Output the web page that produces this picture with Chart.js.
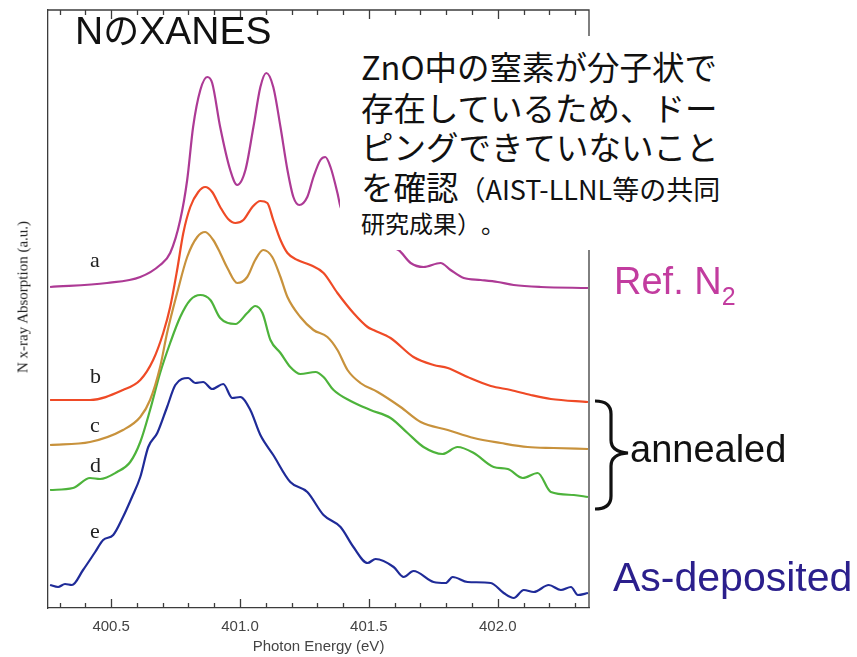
<!DOCTYPE html>
<html>
<head>
<meta charset="utf-8">
<script src="https://cdn.jsdelivr.net/npm/chart.js@4.4.1/dist/chart.umd.min.js"></script>
<style>
  body { margin: 0; background: #fff; }
  #wrap { position: relative; width: 857px; height: 657px; overflow: hidden; background: #fff; }
  #chart { position: absolute; left: 0; top: 0; }
  .lbl { position: absolute; white-space: nowrap; line-height: 1; text-spacing-trim: space-all; }
  .serif { font-family: "Liberation Serif", "DejaVu Serif", serif; color: #222; }
  .sans { font-family: "Liberation Sans", Arial, sans-serif; }
  .jp { font-family: "Noto Sans CJK JP", sans-serif; color: #111; }
  #note { position: absolute; left: 340px; top: 36px; width: 385px; height: 214px; background: #fff; }
</style>
</head>
<body>
<div id="wrap">
  <canvas id="chart" width="857" height="657"></canvas>

  <!-- titre et encadré -->
  <div class="lbl sans" style="left:75px;top:10px;font-size:39px;color:#111;">N<span class="jp" style="font-size:36px;">の</span>XANES</div>
  <div id="note"></div>
  <div class="lbl jp" style="left:361px;top:50px;font-size:32.5px;">ZnO中の窒素が分子状で</div>
  <div class="lbl jp" style="left:361px;top:91px;font-size:32.5px;">存在しているため、ドー</div>
  <div class="lbl jp" style="left:361px;top:130px;font-size:32.5px;">ピングできていないこと</div>
  <div class="lbl jp" style="left:361px;top:170px;font-size:32.5px;">を確認<span style="font-size:27px;">（AIST-LLNL等の共同</span></div>
  <div class="lbl jp" style="left:361px;top:211px;font-size:24px;">研究成果）。</div>

  <!-- étiquettes des courbes -->
  <div class="lbl serif" style="left:90px;top:249px;font-size:22px;">a</div>
  <div class="lbl serif" style="left:90px;top:365px;font-size:22px;">b</div>
  <div class="lbl serif" style="left:90px;top:414px;font-size:22px;">c</div>
  <div class="lbl serif" style="left:90px;top:454px;font-size:22px;">d</div>
  <div class="lbl serif" style="left:90px;top:520px;font-size:22px;">e</div>

  <div class="lbl serif" style="left:23px;top:297px;font-size:15px;transform:translate(-50%,-50%) rotate(-90deg);">N x-ray Absorption (a.u.)</div>

  <!-- légende à droite -->
  <div class="lbl sans" style="left:614px;top:262px;font-size:38px;color:#c23c9f;">Ref. N<span style="font-size:25px;position:relative;top:11px;">2</span></div>
  <svg style="position:absolute;left:0;top:0;" width="857" height="657">
    <path d="M595,401 Q611,401 611,414 L611,440 Q611,452 628,453 Q611,454 611,466 L611,496 Q611,509 595,509"
          fill="none" stroke="#111" stroke-width="3.2"/>
  </svg>
  <div class="lbl sans" style="left:630px;top:430px;font-size:38px;color:#111;">annealed</div>
  <div class="lbl sans" style="left:613px;top:557px;font-size:41px;color:#2b1f8c;">As-deposited</div>
</div>

<script>
// ===== données (énergie en eV, absorption décalée en u.a.) =====
const energyA = [400.263, 400.484, 400.613, 400.690, 400.729, 400.768, 400.795, 400.818, 400.846, 400.873,
  400.892, 400.923, 400.962, 400.989, 401.021, 401.052, 401.079, 401.102, 401.129, 401.157,
  401.184, 401.207, 401.230, 401.261, 401.285, 401.312, 401.331, 401.351, 401.378, 401.390,
  401.467, 401.545, 401.615, 401.662, 401.712, 401.778, 401.817, 401.868, 401.934, 402.000,
  402.062, 402.167, 402.350];
const absA = [3.21, 3.25, 3.31, 3.43, 3.55, 3.88, 4.28, 4.81, 5.18, 5.31,
  5.25, 4.81, 4.38, 4.23, 4.38, 4.81, 5.21, 5.35, 5.21, 4.81,
  4.38, 4.11, 4.03, 4.11, 4.31, 4.48, 4.51, 4.41, 4.15, 4.01,
  3.73, 3.63, 3.58, 3.45, 3.41, 3.45, 3.38, 3.30, 3.28, 3.26,
  3.23, 3.21, 3.20];

const energyB = [400.263, 400.418, 400.546, 400.613, 400.663, 400.702, 400.729, 400.756, 400.780, 400.807,
  400.838, 400.865, 400.892, 400.923, 400.954, 400.982, 401.013, 401.048, 401.079, 401.106,
  401.129, 401.157, 401.184, 401.223, 401.273, 401.324, 401.378, 401.440, 401.495, 401.518,
  401.584, 401.673, 401.751, 401.806, 401.883, 401.973, 402.050, 402.128, 402.206, 402.350];
const absB = [2.08, 2.08, 2.18, 2.28, 2.48, 2.75, 3.01, 3.38, 3.75, 4.01,
  4.16, 4.21, 4.16, 4.01, 3.89, 3.85, 3.88, 4.01, 4.07, 4.05,
  3.88, 3.68, 3.55, 3.48, 3.43, 3.35, 3.15, 2.95, 2.81, 2.78,
  2.70, 2.51, 2.43, 2.40, 2.31, 2.22, 2.18, 2.13, 2.09, 2.06];

const energyC = [400.263, 400.418, 400.546, 400.613, 400.651, 400.690, 400.717, 400.756, 400.795, 400.834,
  400.865, 400.896, 400.923, 400.951, 400.989, 401.028, 401.059, 401.090, 401.125, 401.157,
  401.184, 401.234, 401.285, 401.339, 401.378, 401.417, 401.467, 401.534, 401.623, 401.701,
  401.806, 401.907, 402.012, 402.116, 402.217, 402.350];
const absC = [1.63, 1.66, 1.78, 1.91, 2.08, 2.41, 2.75, 3.15, 3.51, 3.71,
  3.76, 3.68, 3.55, 3.40, 3.25, 3.31, 3.48, 3.58, 3.51, 3.31,
  3.11, 2.91, 2.78, 2.71, 2.58, 2.38, 2.25, 2.16, 2.01, 1.86,
  1.78, 1.70, 1.65, 1.61, 1.60, 1.59];

const energyD = [400.263, 400.352, 400.418, 400.457, 400.523, 400.574, 400.613, 400.651, 400.690, 400.729,
  400.768, 400.807, 400.846, 400.885, 400.923, 400.982, 401.028, 401.059, 401.087, 401.118,
  401.157, 401.195, 401.234, 401.293, 401.324, 401.363, 401.429, 401.506, 401.584, 401.650,
  401.712, 401.786, 401.844, 401.907, 401.984, 402.039, 402.097, 402.155, 402.206, 402.295,
  402.350];
const absD = [1.18, 1.20, 1.30, 1.29, 1.36, 1.46, 1.66, 1.98, 2.35, 2.65,
  2.91, 3.08, 3.13, 3.08, 2.90, 2.84, 2.95, 3.02, 2.95, 2.68,
  2.55, 2.41, 2.34, 2.36, 2.31, 2.18, 2.07, 1.98, 1.90, 1.75,
  1.61, 1.54, 1.61, 1.55, 1.41, 1.39, 1.30, 1.35, 1.16, 1.13,
  1.11];

const energyE = [400.263, 400.294, 400.321, 400.348, 400.391, 400.438, 400.469, 400.508, 400.546, 400.581,
  400.613, 400.644, 400.679, 400.717, 400.749, 400.799, 400.826, 400.857, 400.892, 400.935,
  400.970, 401.001, 401.040, 401.079, 401.129, 401.195, 401.261, 401.324, 401.390, 401.440,
  401.495, 401.526, 401.596, 401.635, 401.673, 401.751, 401.798, 401.825, 401.883, 401.973,
  402.023, 402.062, 402.101, 402.140, 402.198, 402.245, 402.284, 402.311, 402.350];
const absE = [0.23, 0.21, 0.24, 0.23, 0.38, 0.56, 0.68, 0.73, 0.91, 1.11,
  1.31, 1.61, 1.75, 2.01, 2.23, 2.30, 2.25, 2.26, 2.19, 2.24,
  2.10, 2.11, 1.98, 1.73, 1.53, 1.26, 1.16, 0.93, 0.81, 0.61,
  0.45, 0.49, 0.41, 0.31, 0.37, 0.26, 0.25, 0.31, 0.26, 0.25,
  0.15, 0.10, 0.18, 0.16, 0.23, 0.18, 0.21, 0.13, 0.15];

const tickValues = [400.5, 401.0, 401.5, 402.0];
const tickLabels = ["400.5", "401.0", "401.5", "402.0"];

const X_MIN = 400.255, X_MAX = 402.354;
const Y_MIN = 0, Y_MAX = 5.98;
const AXIS_COLOR = "#3c3c3c";

// ===== helpers =====
function toPoints(xs, ys) {
  return xs.map((x, i) => ({ x: x, y: ys[i] }));
}

function curve(xs, ys, color) {
  return {
    data: toPoints(xs, ys),
    borderColor: color,
    borderWidth: 2.2,
    pointRadius: 0,
    cubicInterpolationMode: "monotone",
    fill: false,
  };
}

// cadre haut/droite + graduations intérieures
const frameTicks = {
  id: "frameTicks",
  afterDraw(chart) {
    const { ctx, chartArea: a } = chart;
    const sx = chart.scales.x;
    ctx.save();
    ctx.strokeStyle = AXIS_COLOR;
    ctx.lineWidth = 1.3;
    ctx.beginPath();
    ctx.moveTo(a.left, a.top);
    ctx.lineTo(a.right, a.top);
    ctx.lineTo(a.right, a.bottom);
    for (let k = 4003; k <= 4023; k++) {
      const v = k / 10;
      const px = Math.round(sx.getPixelForValue(v)) + 0.5;
      const len = k % 5 === 0 ? 9 : 5;
      ctx.moveTo(px, a.bottom);
      ctx.lineTo(px, a.bottom - len);
      ctx.moveTo(px, a.top);
      ctx.lineTo(px, a.top + len);
    }
    ctx.stroke();
    ctx.restore();
  },
};

// ===== graphique =====
const chart = new Chart(document.getElementById("chart").getContext("2d"), {
  type: "line",
  data: {
    datasets: [
      curve(energyA, absA, "#ad3a95"),
      curve(energyB, absB, "#ef4a26"),
      curve(energyC, absC, "#c8923c"),
      curve(energyD, absD, "#4db33b"),
      curve(energyE, absE, "#1f2b98"),
    ],
  },
  options: {
    responsive: false,
    animation: false,
    events: [],
    layout: { padding: { left: 0, top: 10, right: 268, bottom: 0 } },
    plugins: { legend: { display: false }, tooltip: { enabled: false } },
    scales: {
      x: {
        type: "linear",
        min: X_MIN,
        max: X_MAX,
        afterBuildTicks: (scale) => {
          scale.ticks = tickValues.map((v) => ({ value: v }));
        },
        afterFit: (scale) => { scale.height = 49; },
        grid: { display: false, drawTicks: false },
        border: { display: true, color: AXIS_COLOR, width: 1.3 },
        ticks: {
          padding: 10,
          maxRotation: 0,
          color: "#444",
          font: { family: "Liberation Sans", size: 15 },
          callback: (v) => tickLabels[tickValues.indexOf(v)] ?? "",
        },
        title: {
          display: true,
          text: "Photon Energy (eV)",
          color: "#444",
          font: { family: "Liberation Sans", size: 15 },
          padding: { top: 0, bottom: 1 },
        },
      },
      y: {
        type: "linear",
        min: Y_MIN,
        max: Y_MAX,
        afterFit: (scale) => { scale.width = 48; },
        grid: { display: false, drawTicks: false },
        border: { display: true, color: AXIS_COLOR, width: 1.3 },
        ticks: { display: false },
      },
    },
  },
  plugins: [frameTicks],
});
</script>
</body>
</html>
